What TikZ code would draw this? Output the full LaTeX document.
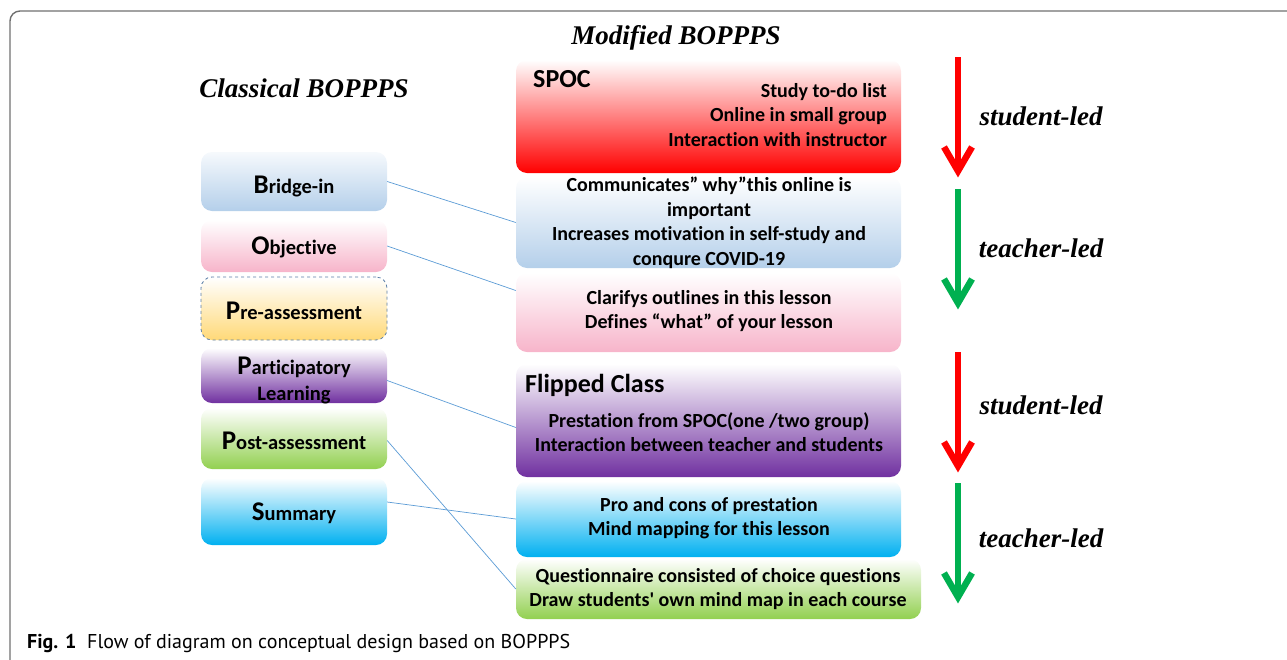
\documentclass[tikz,border=0pt]{standalone}
\usepackage{fontspec}
\setmainfont{Carlito}[Ligatures={TeXOff,NoCommon}]
\newfontfamily\titlefont{Liberation Serif}
\newfontfamily\capfont{PT Sans}
\usetikzlibrary{calc}

\definecolor{framegray}{HTML}{707070}
\definecolor{linkblue}{HTML}{5B9BD5}
\definecolor{bluebot}{HTML}{B4CFEA}
\definecolor{pinkbot}{HTML}{F7B4CA}
\definecolor{yellowbot}{HTML}{FFD978}
\definecolor{dashblue}{HTML}{5A7EA8}
\definecolor{purplebot}{HTML}{7030A0}
\definecolor{greenbot}{HTML}{92D050}
\definecolor{cyanbot}{HTML}{00B0F0}
\definecolor{redbot}{HTML}{FF0000}
\definecolor{arrowred}{HTML}{FF0000}
\definecolor{arrowgreen}{HTML}{00B050}

\newcommand{\initial}[1]{{\fontsize{27}{27}\selectfont #1}}

\tikzset{
  card/.style={rounded corners=11pt, inner sep=0pt},
  leftcard/.style={card, minimum width=186pt},
  rightcard/.style={card, minimum width=385pt},
  inner text/.style={inner sep=0pt, align=center, font=\bfseries\fontsize{20}{24.5}\selectfont},
  stage text/.style={inner sep=0pt, align=center, font=\bfseries\fontsize{20.5}{26}\selectfont},
  heading/.style={inner sep=0pt, font=\titlefont\bfseries\itshape\fontsize{27}{27}\selectfont},
  boxtitle/.style={inner sep=0pt, anchor=west, font=\bfseries\fontsize{26}{26}\selectfont},
  link/.style={draw=linkblue, line width=0.7pt},
  flowarrow/.style={line width=6.5pt, miter limit=10},
}

\begin{document}
\begin{tikzpicture}[x=1pt, y=-1pt]
\useasboundingbox (0,0) rectangle (1287,659);

% outer frame (open to the right and bottom)
\draw[framegray, line width=1.4pt, rounded corners=10pt] (10,670) -- (10,11) -- (1295,11);

% headings
\node[heading] (classical) at (304,88) {Classical BOPPPS};
\node[heading] (modified) at (676,38) {Modified BOPPPS};

% classical stages
\node[leftcard, minimum height=59pt, top color=bluebot!12, bottom color=bluebot] (bridge) at (294,181.5) {};
\node[stage text] at (294,186) {\initial{B}ridge-in};
\node[leftcard, minimum height=52pt, top color=white, bottom color=pinkbot] (objective) at (294,246) {};
\node[stage text] at (294,247) {\initial{O}bjective};
\node[leftcard, minimum height=63pt, top color=white, bottom color=yellowbot, draw=dashblue, dashed, line width=0.8pt] (pre) at (294,308.5) {};
\node[stage text] at (294,311) {\initial{P}re-assessment};
\node[leftcard, minimum height=55pt, top color=white, bottom color=purplebot] (part) at (294,375.5) {};
\node[stage text] at (294,380) {\initial{P}articipatory\\Learning};
\node[leftcard, minimum height=61pt, top color=white, bottom color=greenbot] (post) at (294,438.5) {};
\node[stage text] at (294,441) {\initial{P}ost-assessment};
\node[leftcard, minimum height=67pt, top color=white, bottom color=cyanbot] (summary) at (294,511.5) {};
\node[stage text] at (294,513) {\initial{S}ummary};

% modified stages
\node[rightcard, minimum height=113pt, top color=white, bottom color=redbot] (spoc) at (708.5,116.5) {};
\node[boxtitle] (spoctitle) at (533,79) {SPOC};
\node[inner text, anchor=east, align=right] (spoctext) at (887,115) {Study to-do list\\Online in small group\\Interaction with instructor};

\node[rightcard, minimum height=91pt, top color=white, bottom color=bluebot] (comm) at (708.5,222.5) {};
\node[inner text] (commtext) at (709,223) {Communicates” why”this online is\\important\\Increases motivation in self-study and\\conqure COVID-19};

\node[rightcard, minimum height=79pt, top color=white, bottom color=pinkbot] (clar) at (708.5,312.5) {};
\node[inner text] (clartext) at (709,311) {Clarifys outlines in this lesson\\Defines “what” of your lesson};

\node[rightcard, minimum height=113pt, top color=white, bottom color=purplebot] (flip) at (708.5,420.5) {};
\node[boxtitle] (fliptitle) at (525,385) {Flipped Class};
\node[inner text] (fliptext) at (709,432) {Prestation from SPOC(one /two group)\\Interaction between teacher and students};

\node[rightcard, minimum height=76pt, top color=white, bottom color=cyanbot] (pro) at (708.5,519) {};
\node[inner text] (protext) at (709,518) {Pro and cons of prestation\\Mind mapping for this lesson};

\node[card, minimum width=405pt, minimum height=60pt, top color=white, bottom color=greenbot] (quest) at (718.5,589) {};
\node[inner text] (questtext) at (718,589) {Questionnaire consisted of choice questions\\Draw students' own mind map in each course};

% links between the two models
\draw[link] (bridge.east) -- (comm.west);
\draw[link] (objective.east) -- ([yshift=22pt]clar.west);
\draw[link] ([yshift=-5pt]part.east) -- ([yshift=-7pt]flip.west);
\draw[link] ([yshift=-2pt]post.east) -- (quest.west);
\draw[link] ([yshift=9.5pt]summary.east) -- (pro.west);

% who leads each phase
\coordinate (a1s) at (958,57);  \coordinate (a1e) at (958,168);
\coordinate (a2s) at (958,189); \coordinate (a2e) at (958,300);
\coordinate (a3s) at (958,352); \coordinate (a3e) at (958,463);
\coordinate (a4s) at (958,483); \coordinate (a4e) at (958,594);
\foreach \s/\e/\c in {a1s/a1e/arrowred, a2s/a2e/arrowgreen, a3s/a3e/arrowred, a4s/a4e/arrowgreen}{
  \draw[flowarrow, draw=\c] (\s) -- (\e);
  \draw[flowarrow, draw=\c] ($(\e)+(-14,-21)$) -- ($(\e)+(0,3)$) -- ($(\e)+(14,-21)$);
}
\node[heading] (lead1) at (1041,116) {student-led};
\node[heading] (lead2) at (1041,248) {teacher-led};
\node[heading] (lead3) at (1041,405) {student-led};
\node[heading] (lead4) at (1041,538) {teacher-led};

% caption
\node[inner sep=0pt, anchor=base west, font=\capfont\bfseries\fontsize{20}{20}\selectfont] (figlabel) at (27,648) {Fig. 1};
\node[inner sep=0pt, anchor=base west, font=\capfont\fontsize{20}{20}\selectfont] (figtext) at (87,648) {Flow of diagram on conceptual design based on BOPPPS};
\end{tikzpicture}
\end{document}
